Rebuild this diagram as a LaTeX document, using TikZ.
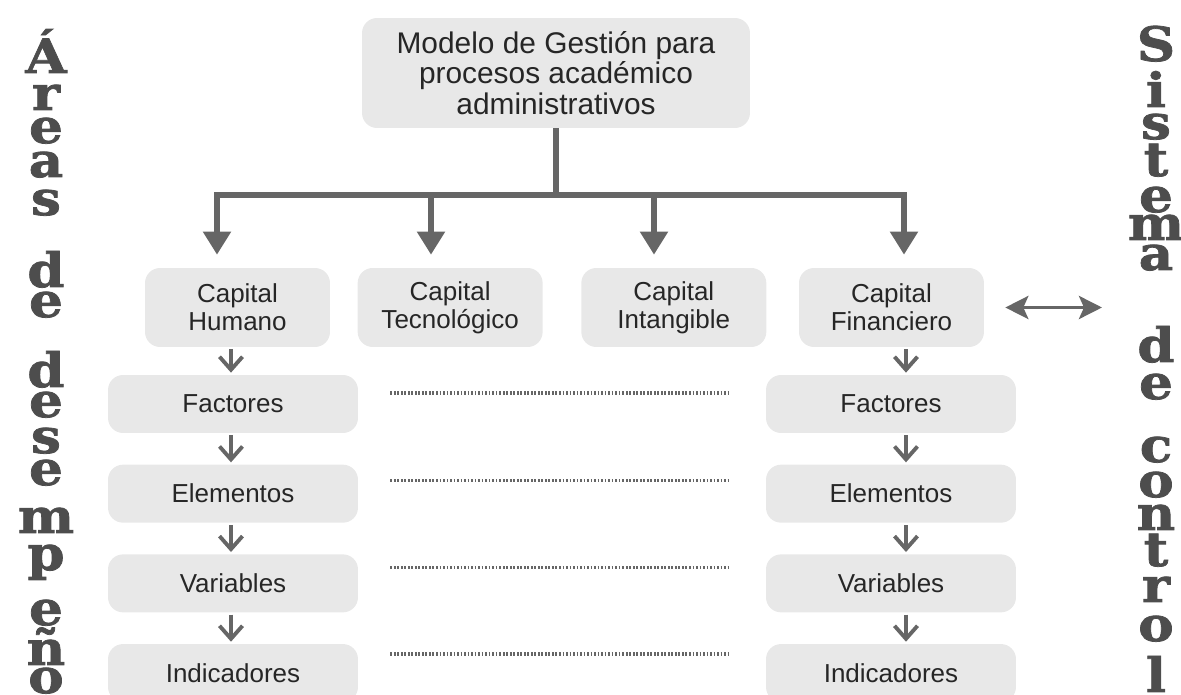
\documentclass[tikz,border=0pt]{standalone}
\usepackage{fontspec}
\setmainfont{Liberation Sans}
\newfontfamily\slabfont[FakeStretch=1.12, BoldFeatures={FakeBold=1.6}]{DejaVu Serif}
\usepackage{tikz}
\usetikzlibrary{positioning,arrows.meta}

\definecolor{boxgray}{HTML}{E8E8E8}
\definecolor{arrgray}{HTML}{666666}
\definecolor{lettergray}{HTML}{4D4D4D}
\definecolor{txtgray}{HTML}{262626}

\begin{document}
\begin{tikzpicture}[x=0.02cm, y=-0.02cm, node distance=0.62cm,
    box/.style={fill=boxgray, rounded corners=0.3cm, text=txtgray, align=center, inner sep=0pt, font=\fontsize{14.8}{15.9}\selectfont},
    capbox/.style={box, minimum width=3.7cm, minimum height=1.58cm},
    colbox/.style={box, minimum width=5cm, minimum height=1.16cm},
    letter/.style={anchor=base, inner sep=0pt, text=lettergray, font=\slabfont\bfseries\fontsize{27}{27}\selectfont},
    bigline/.style={draw=arrgray, line width=3pt},
    bigarr/.style={bigline, -{Triangle[width=0.54cm,length=0.46cm]}, shorten >=0.26cm},
    smallarr/.style={draw=arrgray, line width=2.2pt, -{Straight Barb[width=0.46cm,length=0.26cm]}, shorten <=0.04cm, shorten >=0.04cm},
    dblarr/.style={draw=arrgray, line width=2.2pt, {Stealth[width=0.46cm,length=0.46cm,inset=0.1cm]}-{Stealth[width=0.46cm,length=0.46cm,inset=0.1cm]}, shorten <=0.42cm},
    dotline/.style={draw=arrgray, line width=2pt, dash pattern=on 1pt off 1pt}]
    \useasboundingbox (0,0) rectangle (1181,695);

    % side titles, one letter under the other
    \foreach \l/\y [count=\i] in {Á/73, r/110, e/143, a/177, s/215, d/287, e/317, d/387, e/417, s/453, e/485, m/533, p/570, e/625, ñ/665, o/693}
        \node[letter] (ad\i) at (46,\y) {\l};
    \foreach \l/\y [count=\i] in {S/61, i/107, s/139, t/176, e/212, m/240, a/270, d/362, e/399, c/462, o/497, n/530, t/566, r/602, o/641, l/692}
        \node[letter] (sc\i) at (1156,\y) {\l};

    \node[box, minimum width=7.76cm, minimum height=2.2cm, font=\fontsize{17}{17.5}\selectfont] (top) at (556,73) {Modelo de Gestión para\\procesos académico\\administrativos};

    \node[capbox] (caphum) at (237.5,307.5) {Capital\\Humano};
    \node[capbox, right=0.54cm of caphum] (captec) {Capital\\Tecnológico};
    \node[capbox, right=0.76cm of captec] (capint) {Capital\\Intangible};
    \node[capbox, right=0.64cm of capint] (capfin) {Capital\\Financiero};

    \node[colbox] (fachum) at (233,404) {Factores};
    \node[colbox, below=of fachum] (elehum) {Elementos};
    \node[colbox, below=of elehum] (varhum) {Variables};
    \node[colbox, below=of varhum] (indhum) {Indicadores};

    \node[colbox] (facfin) at (891,404) {Factores};
    \node[colbox, below=of facfin] (elefin) {Elementos};
    \node[colbox, below=of elefin] (varfin) {Variables};
    \node[colbox, below=of varfin] (indfin) {Indicadores};

    % tree from the model down to the four capitals
    \coordinate (a1) at (217,195);
    \coordinate (a2) at (431,195);
    \coordinate (a3) at (654,195);
    \coordinate (a4) at (904,195);
    \draw[bigline] (top.south) -- (top.south |- a1);
    \draw[bigline, line cap=rect] (a1) -- (a4);
    \foreach \n/\b in {1/caphum, 2/captec, 3/capint, 4/capfin}
        \draw[bigarr] (a\n) -- (a\n |- \b.north);

    % columns
    \coordinate (lcol) at (231,0);
    \coordinate (rcol) at (906,0);
    \foreach \s/\t in {caphum/fachum, fachum/elehum, elehum/varhum, varhum/indhum}
        \draw[smallarr] (lcol |- \s.south) -- (lcol |- \t.north);
    \foreach \s/\t in {capfin/facfin, facfin/elefin, elefin/varfin, varfin/indfin}
        \draw[smallarr] (rcol |- \s.south) -- (rcol |- \t.north);

    \foreach \rw/\dy in {fac/0.22, ele/0.26, var/0.32, ind/0.38}
        \draw[dotline, shorten <=0.64cm, shorten >=0.76cm] ([yshift=\dy cm]\rw hum.east) -- ([yshift=\dy cm]\rw fin.west);

    \coordinate (ctl) at (1102,307.5);
    \draw[dblarr] (capfin.east) -- (ctl);
\end{tikzpicture}
\end{document}
